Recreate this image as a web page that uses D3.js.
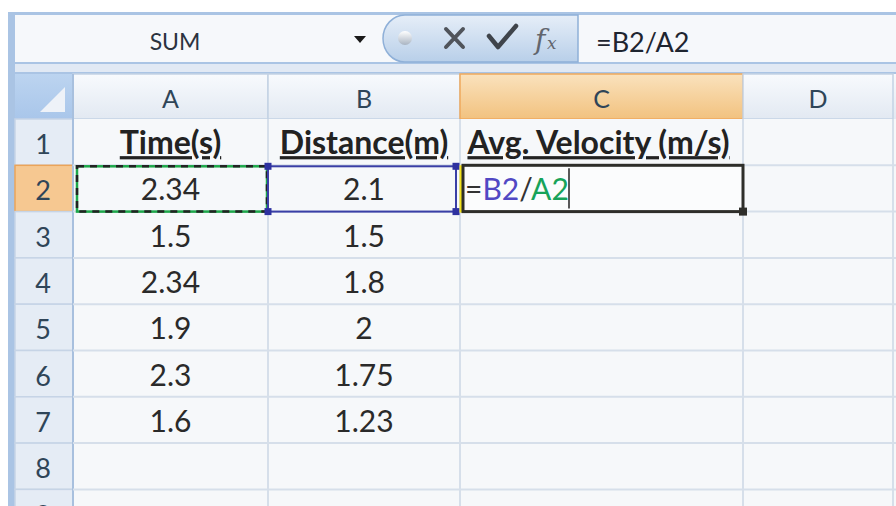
<!DOCTYPE html>
<html>
<head>
<meta charset="utf-8">
<title>Spreadsheet: average velocity</title>
<style>
  body { margin: 0; background: #fff; }
  svg { display: block; font-family: Lato, "Open Sans", sans-serif; }
</style>
</head>
<body>
<svg id="sheet" width="896" height="506"></svg>
<script src="https://cdn.jsdelivr.net/npm/d3@7/dist/d3.min.js"></script>
<script>
// sheet data
var columns = ['A', 'B', 'C', 'D'];
var rows = [1, 2, 3, 4, 5, 6, 7, 8, 9];
var headers = ['Time(s)', 'Distance(m)', 'Avg. Velocity (m/s)'];
var time = [2.34, 1.5, 2.34, 1.9, 2.3, 1.6];
var distance = [2.1, 1.5, 1.8, 2, 1.75, 1.23];
var nameBox = 'SUM';
var formula = ['=', 'B2', '/', 'A2'];

var W = 896, H = 506;
var svg = d3.select('#sheet');
var defs = svg.append('defs');

function grad(id, stops) {
  var g = defs.append('linearGradient').attr('id', id)
    .attr('x1', 0).attr('y1', 0).attr('x2', 0).attr('y2', 1);
  stops.forEach(function (s) {
    g.append('stop').attr('offset', s[0]).attr('stop-color', s[1]);
  });
}
grad('colHead', [[0, '#f8fafd'], [1, '#e2e9f2']]);
grad('colHeadSel', [[0, '#fae2bd'], [1, '#f2c27f']]);
grad('btn', [[0, '#e6eef8'], [1, '#b8cfe9']]);
grad('knob', [[0, '#ffffff'], [1, '#a9b4c2']]);
grad('corner', [[0, '#bcd4f0'], [1, '#a9c6ea']]);

// column widths -> x scale
var colW = [195, 192, 283, 150];
var left = 73;
var colEdges = [left];
colW.forEach(function (w, i) { colEdges.push(colEdges[i] + w); });
var x = d3.scaleOrdinal().domain(columns).range(colEdges.slice(0, 4));
var wOf = d3.scaleOrdinal().domain(columns).range(colW);

var headerTop = 74, headerBot = 119, rowH = 46.3;
var y = d3.scaleBand().domain(rows)
  .range([headerBot, headerBot + rowH * rows.length]).paddingInner(0);

// frame
svg.append('rect').attr('x', 8).attr('y', 12).attr('width', W - 8).attr('height', H - 12)
  .attr('fill', '#aac4e4');

// formula bar
svg.append('rect').attr('x', 15).attr('y', 15).attr('width', W - 15).attr('height', 47)
  .attr('fill', '#f6f8fb');
svg.append('rect').attr('x', 15).attr('y', 64).attr('width', W - 15).attr('height', 8)
  .attr('fill', '#e1e9f4');
svg.append('text').attr('x', 175).attr('y', 50).attr('text-anchor', 'middle')
  .attr('font-size', 23).attr('fill', '#2b3340').text(nameBox);
svg.append('path').attr('d', 'M354,36 L366,36 L360,43 Z').attr('fill', '#1a1a1a');

// button pill
svg.append('path')
  .attr('d', 'M578,15 L405,15 A22,23.5 0 0 0 405,62 L578,62 Z')
  .attr('fill', 'url(#btn)').attr('stroke', '#8fb0d8').attr('stroke-width', 1.5);
svg.append('circle').attr('cx', 405).attr('cy', 38).attr('r', 7).attr('fill', 'url(#knob)');
svg.append('path').attr('d', 'M446,29 L463,47 M463,29 L446,47')
  .attr('stroke', '#50545b').attr('stroke-width', 4).attr('stroke-linecap', 'round');
svg.append('path').attr('d', 'M489,36 L498,47 L516,26')
  .attr('stroke', '#3f444b').attr('stroke-width', 4.5).attr('fill', 'none')
  .attr('stroke-linecap', 'round').attr('stroke-linejoin', 'round');
svg.append('text').attr('x', 535).attr('y', 49).attr('font-family', 'DejaVu Serif, serif')
  .attr('font-style', 'italic').attr('font-size', 28).attr('fill', '#62666e').text('f');
svg.append('text').attr('x', 547).attr('y', 49).attr('font-family', 'DejaVu Serif, serif')
  .attr('font-style', 'italic').attr('font-size', 17).attr('fill', '#62666e').text('x');
svg.append('text').attr('x', 596).attr('y', 52).attr('font-size', 27).attr('fill', '#1e2530')
  .text(formula.join(''));

// header row
svg.append('rect').attr('x', 15).attr('y', headerTop).attr('width', W - 15)
  .attr('height', headerBot - headerTop).attr('fill', 'url(#colHead)');
svg.append('rect').attr('x', 15).attr('y', headerTop).attr('width', left - 15)
  .attr('height', headerBot - headerTop).attr('fill', 'url(#corner)');
svg.append('path').attr('d', 'M40,112 L65,112 L65,87 Z').attr('fill', '#eef2f8');

var colHead = svg.append('g').selectAll('g').data(columns).join('g');
colHead.append('rect')
  .attr('x', function (d) { return x(d); }).attr('y', headerTop)
  .attr('width', function (d) { return wOf(d); }).attr('height', headerBot - headerTop)
  .attr('fill', function (d) { return d === 'C' ? 'url(#colHeadSel)' : 'url(#colHead)'; })
  .attr('stroke', function (d) { return d === 'C' ? '#f0a95c' : '#c3d2e4'; })
  .attr('stroke-width', 1.5);
colHead.append('text')
  .attr('x', function (d) { return x(d) + wOf(d) / 2; }).attr('y', 108)
  .attr('text-anchor', 'middle').attr('font-size', 25).attr('fill', '#2f4558')
  .text(function (d) { return d; });

// cells background
var gridTop = headerBot;
svg.append('rect').attr('x', left).attr('y', gridTop).attr('width', W - left)
  .attr('height', H - gridTop).attr('fill', '#f6f8fa');

// row headers
var rowHead = svg.append('g').selectAll('g').data(rows).join('g');
rowHead.append('rect')
  .attr('x', 15).attr('y', function (d) { return y(d); })
  .attr('width', left - 15).attr('height', y.bandwidth())
  .attr('fill', function (d) { return d === 2 ? '#f6c891' : '#e5ecf5'; })
  .attr('stroke', function (d) { return d === 2 ? '#eba45a' : '#c6d4e6'; })
  .attr('stroke-width', 1.5);
rowHead.append('text')
  .attr('x', 43).attr('y', function (d) { return y(d) + y.bandwidth() / 2 + 12; })
  .attr('text-anchor', 'middle').attr('font-size', 27).attr('fill', '#2f4558')
  .text(function (d) { return d; });
svg.append('line').attr('x1', left).attr('x2', left).attr('y1', headerTop).attr('y2', H)
  .attr('stroke', '#a8c0de').attr('stroke-width', 2);

// grid lines
svg.append('g').selectAll('line').data(rows).join('line')
  .attr('x1', left).attr('x2', W)
  .attr('y1', function (d) { return y(d) + y.bandwidth(); })
  .attr('y2', function (d) { return y(d) + y.bandwidth(); })
  .attr('stroke', '#d6dfea').attr('stroke-width', 2);
svg.append('g').selectAll('line').data(columns).join('line')
  .attr('x1', function (d) { return x(d) + wOf(d); })
  .attr('x2', function (d) { return x(d) + wOf(d); })
  .attr('y1', gridTop).attr('y2', H)
  .attr('stroke', '#d6dfea').attr('stroke-width', 2);

// header texts (row 1)
svg.append('g').selectAll('text').data(headers).join('text')
  .attr('x', function (d, i) { return x(columns[i]) + wOf(columns[i]) / 2 + (i === 2 ? -3 : 0); })
  .attr('y', y(1) + y.bandwidth() / 2 + 12)
  .attr('text-anchor', 'middle').attr('font-size', 32).attr('font-weight', 'bold')
  .attr('text-decoration', 'underline').attr('fill', '#222')
  .text(function (d) { return d; });

// values
function valueCol(vals, col) {
  svg.append('g').selectAll('text').data(vals).join('text')
    .attr('x', x(col) + wOf(col) / 2)
    .attr('y', function (d, i) { return y(rows[i + 1]) + y.bandwidth() / 2 + 12; })
    .attr('text-anchor', 'middle').attr('font-size', 30).attr('fill', '#2a2a2a')
    .text(function (d) { return d; });
}
valueCol(time, 'A');
valueCol(distance, 'B');

// selection of A2 (marching ants)
var r2 = y(2), rh = y.bandwidth();
svg.append('rect').attr('x', x('A') + 4).attr('y', r2 + 1).attr('width', wOf('A') - 5)
  .attr('height', rh - 1).attr('fill', 'none').attr('stroke', '#1ea84a').attr('stroke-width', 2.5);
svg.append('rect').attr('x', x('A') + 4).attr('y', r2 + 1).attr('width', wOf('A') - 5)
  .attr('height', rh - 1).attr('fill', 'none').attr('stroke', '#222')
  .attr('stroke-width', 2.5).attr('stroke-dasharray', '7,6');

// B2 range reference
svg.append('rect').attr('x', x('B')).attr('y', r2 + 1).attr('width', wOf('B') - 4)
  .attr('height', rh - 1).attr('fill', 'none').attr('stroke', '#3a3fa6').attr('stroke-width', 2);
[[x('B'), r2 + 1], [x('B') + wOf('B') - 4, r2 + 1], [x('B'), r2 + rh], [x('B') + wOf('B') - 4, r2 + rh]]
  .forEach(function (p) {
    svg.append('rect').attr('x', p[0] - 3.5).attr('y', p[1] - 3.5).attr('width', 7).attr('height', 7)
      .attr('fill', '#2e31a0');
  });
svg.append('line').attr('x1', x('C') + 1).attr('x2', x('C') + 1).attr('y1', r2).attr('y2', r2 + rh + 1)
  .attr('stroke', '#f3e21c').attr('stroke-width', 3);

// active cell C2
svg.append('rect').attr('x', x('C') + 3).attr('y', r2).attr('width', wOf('C') - 3)
  .attr('height', rh).attr('fill', '#fbfcfd').attr('stroke', '#2e2e2a').attr('stroke-width', 3);
svg.append('rect').attr('x', x('C') + wOf('C') - 4).attr('y', r2 + rh - 4).attr('width', 8)
  .attr('height', 8).attr('fill', '#2e2e2a');
var ft = svg.append('text').attr('x', x('C') + 5).attr('y', r2 + rh / 2 + 12).attr('font-size', 30);
var fcol = ['#333', '#5148c4', '#333', '#17a35a'];
formula.forEach(function (s, i) { ft.append('tspan').attr('fill', fcol[i]).text(s); });
svg.append('line').attr('x1', 569).attr('x2', 569).attr('y1', r2 + 3).attr('y2', r2 + rh - 3)
  .attr('stroke', '#222').attr('stroke-width', 1.5);
</script>
</body>
</html>
